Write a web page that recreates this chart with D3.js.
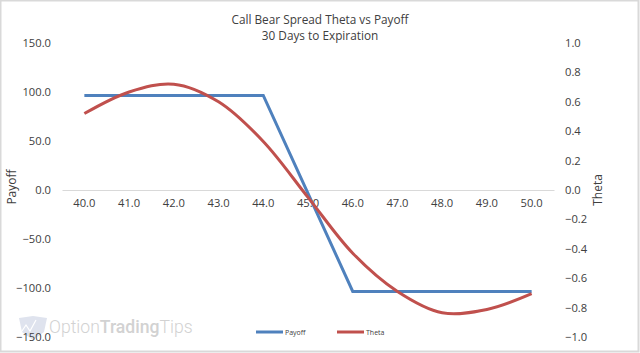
<!DOCTYPE html>
<html><head><meta charset="utf-8">
<style>html,body{margin:0;padding:0;background:#fff}svg{display:block}</style>
<script src="https://cdn.jsdelivr.net/npm/d3@7"></script></head>
<body><script>
const strikes=[40,41,42,43,44,45,46,47,48,49,50];
const payoff=[96.5,96.5,96.5,96.5,96.5,-3.5,-103.5,-103.5,-103.5,-103.5,-103.5];
const theta=[0.52,0.667,0.72,0.60,0.33,-0.05,-0.43,-0.69,-0.835,-0.813,-0.705];
const payoffTicks=[150,100,50,0,-50,-100,-150];
const thetaTicks=[1,0.8,0.6,0.4,0.2,0,-0.2,-0.4,-0.6,-0.8,-1];
const titleLines=["Call Bear Spread Theta vs Payoff","30 Days to Expiration"];
const W=640,H=353,F="'Open Sans','DejaVu Sans',sans-serif",TXT="#404040";
const svg=d3.select("body").append("svg").attr("width",W).attr("height",H);
svg.append("rect").attr("x",.5).attr("y",.5).attr("width",W-2).attr("height",H-2).attr("fill","#fff").attr("stroke","#d9d9d9").attr("stroke-width",2);
const wm=svg.append("g");
wm.append("path").attr("d","M19 318 L33 316 L47 318 L44 332 L33 340 L22 332 Z").attr("fill","#dfe3ee");
wm.append("path").attr("d","M20 334 L26 325 L30 331 L36 320").attr("fill","none").attr("stroke","#fff").attr("stroke-width",1.2);
const wt=wm.append("text").attr("x",49).attr("y",333).attr("font-family","Roboto,sans-serif").attr("font-size",17.6).attr("fill","#d2d2d2");
wt.append("tspan").text("Option").attr("font-weight",300);
wt.append("tspan").text("Trading").attr("font-weight",500);
wt.append("tspan").text("Tips").attr("font-weight",300);
const x=d3.scaleBand().domain(strikes).range([62,554]);
const cx=d=>x(d)+x.bandwidth()/2;
const yL=d3.scaleLinear().domain([-150,150]).range([337,43]);
const yR=d3.scaleLinear().domain([-1,1]).range([337,43]);
const fontAll=g=>g.selectAll("text").attr("font-family",F).attr("font-size",11.2).attr("fill",TXT);
const ax=svg.append("g").attr("transform",`translate(0,${yL(0)})`).call(d3.axisBottom(x).tickSize(0).tickPadding(9).tickFormat(d3.format(".1f")));
ax.select(".domain").attr("stroke","#d9d9d9"); fontAll(ax);
const al=svg.append("g").attr("transform","translate(54,0)").call(d3.axisLeft(yL).tickValues(payoffTicks).tickSize(0).tickPadding(3).tickFormat(d3.format(".1f")));
al.select(".domain").remove(); fontAll(al);
const ar=svg.append("g").attr("transform","translate(562,0)").call(d3.axisRight(yR).tickValues(thetaTicks).tickSize(0).tickPadding(3).tickFormat(d3.format(".1f")));
ar.select(".domain").remove(); fontAll(ar);
[payoff,theta].forEach((s,i)=>{
  const y=i?yR:yL;
  const line=d3.line().x((d,j)=>cx(strikes[j])).y(d=>y(d));
  if(i) line.curve(d3.curveCatmullRom.alpha(0.5));
  svg.append("path").datum(s).attr("d",line).attr("fill","none").attr("stroke",i?"#c0504d":"#4f81bd").attr("stroke-width",3);
});
titleLines.forEach((t,i)=>svg.append("text").text(t).attr("x",320).attr("y",24+i*16).attr("text-anchor","middle").attr("font-family",F).attr("font-size",11.8).attr("fill",TXT));
svg.append("text").text("Payoff").attr("transform","translate(16,187) rotate(-90)").attr("text-anchor","middle").attr("font-family",F).attr("font-size",12).attr("fill",TXT);
svg.append("text").text("Theta").attr("transform","translate(602,190) rotate(-90)").attr("text-anchor","middle").attr("font-family",F).attr("font-size",12).attr("fill",TXT);
[["Payoff","#4f81bd",256],["Theta","#c0504d",337]].forEach(([t,c,x0])=>{
  svg.append("line").attr("x1",x0).attr("x2",x0+27).attr("y1",332).attr("y2",332).attr("stroke",c).attr("stroke-width",3);
  svg.append("text").text(t).attr("x",x0+29).attr("y",335).attr("font-family",F).attr("font-size",7).attr("fill",TXT);
});
</script></body></html>
